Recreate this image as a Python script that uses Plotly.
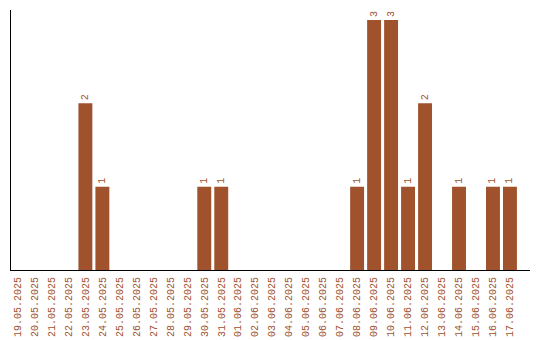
import plotly.graph_objects as go

dates = ["19.05.2025","20.05.2025","21.05.2025","22.05.2025","23.05.2025","24.05.2025",
         "25.05.2025","26.05.2025","27.05.2025","28.05.2025","29.05.2025","30.05.2025",
         "31.05.2025","01.06.2025","02.06.2025","03.06.2025","04.06.2025","05.06.2025",
         "06.06.2025","07.06.2025","08.06.2025","09.06.2025","10.06.2025","11.06.2025",
         "12.06.2025","13.06.2025","14.06.2025","15.06.2025","16.06.2025","17.06.2025"]
counts = [0,0,0,0,2,1,0,0,0,0,0,1,1,0,0,0,0,0,0,0,1,3,3,1,2,0,1,0,1,1]

color = "#A0522D"
labels = [str(c) if c > 0 else "" for c in counts]

fig = go.Figure(go.Bar(
    x=dates, y=counts, marker_color=color, marker_line_width=0,
    text=labels, textposition="outside", textangle=-90,
    textfont=dict(family="Liberation Mono", size=10, color=color),
    cliponaxis=False,
))
fig.update_layout(
    width=540, height=340, margin=dict(l=11, r=10, t=10, b=70, autoexpand=False),
    paper_bgcolor="white", plot_bgcolor="white", bargap=0.18,
    showlegend=False,
    uniformtext=dict(minsize=9, mode="show"),
)
fig.update_xaxes(type="category", range=[-0.38, 30.18], tickangle=-90, automargin=False,
                 tickfont=dict(family="Liberation Mono", size=10, color=color),
                 showline=True, linecolor="black", linewidth=1, showgrid=False,
                 ticks="outside", ticklen=2, tickcolor="white")
fig.update_yaxes(range=[0, 3.12], showticklabels=False, showgrid=False, automargin=False,
                 zeroline=False, showline=True, linecolor="black", linewidth=1, ticks="")
fig.write_html("out.html")
